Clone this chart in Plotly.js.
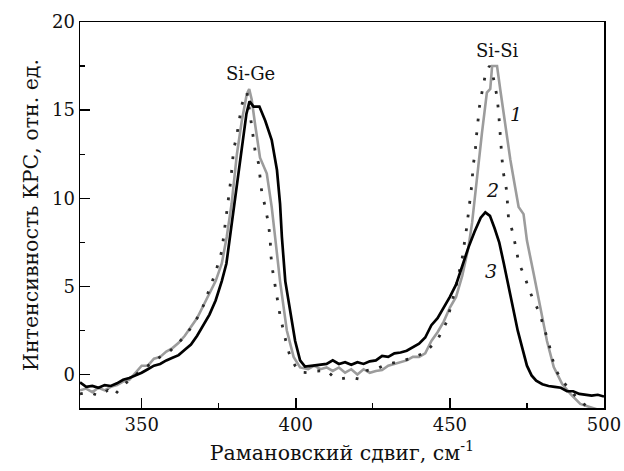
<!DOCTYPE html>
<html>
<head>
<meta charset="utf-8">
<script src="https://cdn.plot.ly/plotly-3.0.1.min.js"></script>
<style>html,body{margin:0;padding:0;background:#fff}#chart{width:624px;height:471px}</style>
</head>
<body>
<div id="chart"></div>
<script>
// Curve 1 (grey solid)
const x1 = [330,332,334,336,338,340,342,344,346,348,350,352,354,356,358,360,362,364,366,368,370,372,374,376,377.6,379.2,380.9,382.5,384.1,384.9,385.7,386.8,388.4,390.6,392.2,393.3,394.9,397.1,399.3,401.4,404,406,408,410,412,414,416,418,420,422,424,426,428,430,432,434,436,438,440,442,444,446,448,450,452,454,456,457.2,458.8,460.4,462,463.1,463.7,465.3,466.4,468,469.6,471.2,472.3,473.9,475,477.2,479.4,481.5,483.7,486.4,489.1,492.3,495.6,498,500];
const y1 = [-0.9,-0.8,-1.0,-0.75,-0.9,-0.7,-0.6,-0.4,-0.3,0.1,0.5,0.5,0.9,1.0,1.3,1.5,1.8,2.2,2.7,3.2,3.9,4.6,5.3,6.3,7.8,9.7,12.5,14.4,15.9,16.2,15.6,14.2,12.3,11.4,9.5,7.8,5.3,2.5,1.0,0.4,0.3,0.5,0.3,0.4,0.2,0.4,0.1,0.3,0.0,0.3,0.1,0.2,0.25,0.5,0.6,0.7,0.8,1.0,1.0,1.2,1.9,2.4,3.0,3.8,4.4,5.6,7.2,8.6,11.2,13.7,16.0,16.2,17.5,17.5,16.1,14.05,12.2,10.6,9.5,9.1,7.6,5.7,3.8,1.9,0.42,-0.53,-1.1,-1.67,-1.86,-2.0,-2.1];

// Curve 2 (dotted)
const x2 = [330,333,336,339,341,344,347,350,353,356,359,362,365,368,370,372,374,376,377.1,378.2,378.9,379.4,379.8,380.9,381.7,382.5,383.6,384.2,385.7,386.8,387.9,388.4,389,390.1,391.1,391.7,391.9,392.5,393.3,394,394.9,396,397.1,398.2,399.8,401.4,404,407,410,412,414.4,417.7,420.4,423.1,426,429.6,433,437,441.5,445.8,449,452,454,455.5,456.6,457.2,457.5,458.2,458.6,459,459.6,460.4,461.5,462.8,463.5,464.4,465.3,465.8,466.1,466.4,466.9,467.4,468.3,468.7,469.0,470.5,471.6,472.4,474.2,475.7,477.7,479.1,480.6,482,483.1,484.2,486.4,490.1,493.4,496,500];
const y2 = [-1.1,-1.0,-1.2,-0.9,-1.2,-0.6,-0.2,0.3,0.6,1.0,1.3,1.8,2.4,3.2,3.9,4.8,5.8,7.0,8.4,10.1,11.0,11.9,12.7,13.6,14.4,15.3,15.85,16.0,14.1,12.7,12.0,11.1,10.3,9.5,8.6,7.7,6.8,5.9,5.06,4.2,3.35,2.5,1.65,1.0,0.5,0.13,0.1,0.2,0.23,-0.1,-0.25,-0.15,-0.25,0.23,0.3,0.6,0.7,0.9,1.2,1.9,3.0,5.0,6.6,8.4,10.1,10.9,11.8,12.6,13.5,14.3,15.2,16.0,17.0,17.5,17.3,16.6,15.75,14.9,14.05,13.1,12.25,11.4,10.55,9.7,8.9,8.0,7.1,6.3,5.6,4.8,4.0,3.5,2.6,1.84,1.0,0.3,-0.34,-1.1,-1.67,-2.0,-2.2];

// Curve 3 (black solid)
const x3 = [330,332,334,336,338,340,342,344,346,348,350,352,354,356,358,360,362,364,366,368,370,372,374,376,377.5,378.5,379.8,381,382.5,384,385,386.3,388.2,390.1,392.2,393.9,394.9,395.5,396.6,398.2,399.8,401.4,403,405.6,408,410,412,414,416,418,420,422,424,426,428,430,432,434,436,438,440,442,444,446,448,450,452,454,456,458,460,461.5,463,464.5,466,467.5,469,470.5,472,473.5,475,476.5,478,480,482,484,486,488,490,492,494,496,498,500];
const y3 = [-0.45,-0.7,-0.65,-0.75,-0.6,-0.65,-0.5,-0.3,-0.2,-0.05,0.1,0.3,0.5,0.6,0.8,0.95,1.1,1.4,1.7,2.2,2.8,3.4,4.2,5.3,6.3,7.6,9.5,11.0,13.1,14.8,15.5,15.2,15.2,14.4,13.3,11.6,9.7,7.8,5.3,3.5,1.9,0.8,0.45,0.5,0.55,0.6,0.8,0.6,0.7,0.55,0.7,0.6,0.75,0.8,1.05,1.0,1.2,1.25,1.35,1.55,1.75,2.1,2.8,3.2,3.8,4.4,5.1,6.2,7.2,8.1,8.9,9.2,9.0,8.3,7.5,6.3,5.0,3.6,2.5,1.5,0.5,-0.05,-0.35,-0.55,-0.65,-0.7,-0.75,-0.95,-0.95,-1.1,-1.15,-1.2,-1.15,-1.25];

const xTicks = [350, 400, 450, 500];
const yTicks = [0, 5, 10, 15, 20];

const serif = 'DejaVu Serif, serif';

const traces = [
  {x: x1, y: y1, mode: 'lines', line: {color: '#9c9c9c', width: 2.6}, hoverinfo: 'skip'},
  {x: x2, y: y2, mode: 'lines', line: {color: '#2a2a2a', width: 2.8, dash: '2.8px,11px'}, hoverinfo: 'skip'},
  {x: x3, y: y3, mode: 'lines', line: {color: '#000000', width: 2.7}, hoverinfo: 'skip'}
];

const layout = {
  width: 624, height: 471,
  margin: {l: 80, r: 20, t: 22, b: 63},
  paper_bgcolor: '#fff', plot_bgcolor: '#fff',
  showlegend: false,
  font: {family: serif, size: 18, color: '#111'},
  xaxis: {
    range: [330, 500], tickvals: xTicks, ticktext: xTicks.map(String),
    ticks: 'inside', ticklen: 10, tickwidth: 1.5, tickcolor: '#000',
    minor: {dtick: 25, tick0: 0, ticks: 'inside', ticklen: 5, tickwidth: 1.2, tickcolor: '#000'},
    showline: true, linecolor: '#000', linewidth: 1.5, mirror: true,
    showgrid: false, zeroline: false,
    tickfont: {family: serif, size: 18, color: '#111'},
    title: {text: 'Рамановский сдвиг, см<sup>-1</sup>', font: {family: serif, size: 20.5, color: '#111'}, standoff: 11}
  },
  yaxis: {
    range: [-1.9, 20], tickvals: yTicks, ticktext: yTicks.map(String),
    ticks: 'inside', ticklen: 10, tickwidth: 1.5, tickcolor: '#000',
    minor: {dtick: 2.5, tick0: 0, ticks: 'inside', ticklen: 5, tickwidth: 1.2, tickcolor: '#000'},
    showline: true, linecolor: '#000', linewidth: 1.5, mirror: true,
    showgrid: false, zeroline: false,
    tickfont: {family: serif, size: 18, color: '#111'},
    title: {text: 'Интенсивность КРС, отн. ед.', font: {family: serif, size: 20.5, color: '#111'}, standoff: 8}
  },
  annotations: [
    {x: 385.2, y: 17.1, text: 'Si-Ge', showarrow: false, font: {family: serif, size: 18, color: '#111'}},
    {x: 465.4, y: 18.4, text: 'Si-Si', showarrow: false, font: {family: serif, size: 18, color: '#111'}},
    {x: 471.6, y: 14.8, text: '<i>1</i>', showarrow: false, font: {family: serif, size: 19, color: '#111'}},
    {x: 463.8, y: 10.45, text: '<i>2</i>', showarrow: false, font: {family: serif, size: 19, color: '#111'}},
    {x: 463.4, y: 5.9, text: '<i>3</i>', showarrow: false, font: {family: serif, size: 19, color: '#111'}}
  ]
};

Plotly.newPlot('chart', traces, layout, {staticPlot: true, displayModeBar: false});
</script>
</body>
</html>
